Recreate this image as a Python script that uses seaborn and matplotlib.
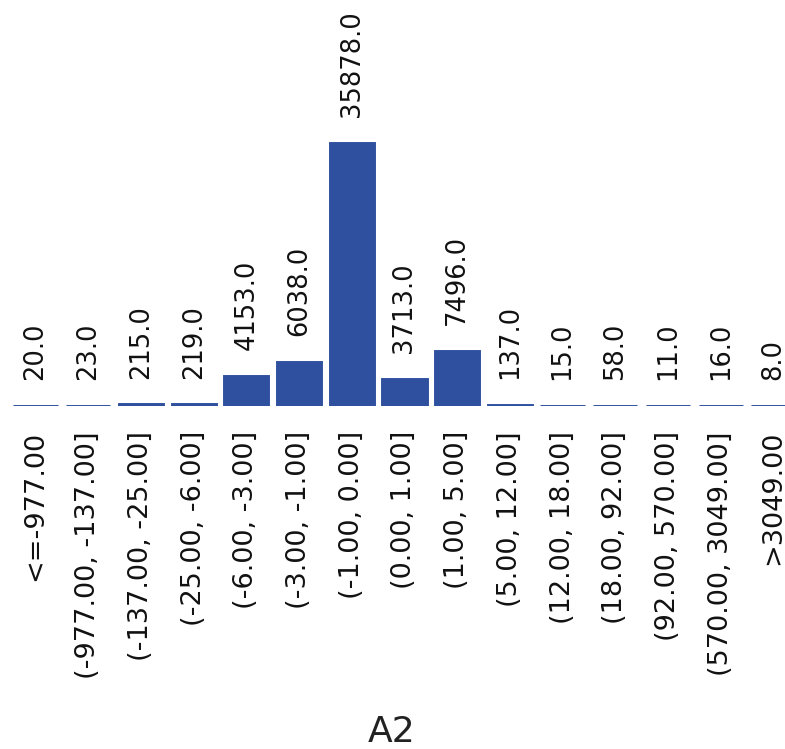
import matplotlib
matplotlib.use("Agg")
import matplotlib.pyplot as plt
import seaborn as sns

bins = ["<=-977.00", "(-977.00, -137.00]", "(-137.00, -25.00]", "(-25.00, -6.00]",
        "(-6.00, -3.00]", "(-3.00, -1.00]", "(-1.00, 0.00]", "(0.00, 1.00]",
        "(1.00, 5.00]", "(5.00, 12.00]", "(12.00, 18.00]", "(18.00, 92.00]",
        "(92.00, 570.00]", "(570.00, 3049.00]", ">3049.00"]
counts = [20, 23, 215, 219, 4153, 6038, 35878, 3713, 7496, 137, 15, 58, 11, 16, 8]
bar_color = "#2F509F"

sns.set_theme(style="white")
plt.rcParams["font.family"] = ["DejaVu Sans"]

fig = plt.figure(figsize=(7.85, 7.49), dpi=100)
# axes runs slightly past the right edge, like the original
ax = fig.add_axes([9.2 / 785, 343 / 749, 790.5 / 785, 405 / 749])

sns.barplot(x=bins, y=counts, color=bar_color, saturation=1, width=0.84,
            edgecolor=bar_color, linewidth=2.1, ax=ax)

ax.set_xlim(-0.5, len(bins) - 0.5)
ax.set_ylim(0, 55240)
sns.despine(ax=ax, left=True, bottom=True)
ax.set_yticks([])
ax.tick_params(axis="x", length=0, pad=18, labelsize=19.5, labelcolor="#111111")
ax.set_xticks(range(len(bins)))
ax.set_xticklabels(bins, rotation=90, va="top", ha="center")

for i, v in enumerate(counts):
    ax.annotate(f"{v:.1f}", xy=(i, v), xytext=(0, 18.5), textcoords="offset points",
                rotation=90, ha="center", va="bottom", fontsize=18.5, color="#111111",
                annotation_clip=False)

ax.set_xlabel("A2", fontsize=26, color="#222222")
ax.xaxis.set_label_coords((392 - 9.2) / 790.5, -(715 - 406) / 405)
ax.xaxis.label.set_va("top")

fig.savefig("out.png", dpi=100)
